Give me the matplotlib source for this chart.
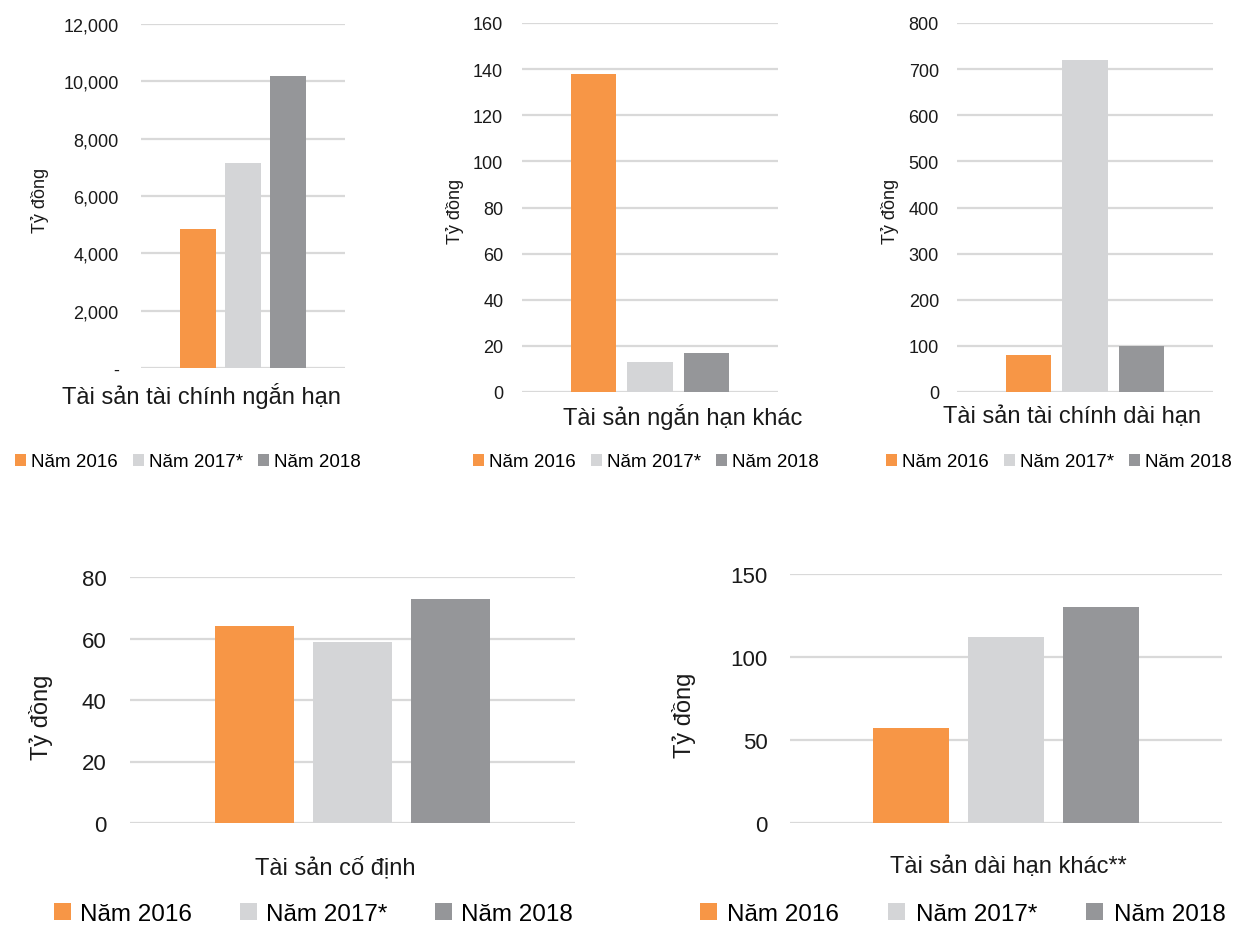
import numpy as np
import matplotlib
matplotlib.use("Agg")
import matplotlib.pyplot as plt
from matplotlib.ticker import FuncFormatter

plt.rcParams['font.family'] = ['Liberation Sans', 'DejaVu Sans']

# Data
series = ['Năm 2016', 'Năm 2017*', 'Năm 2018']
categories = ['Tài sản tài chính ngắn hạn', 'Tài sản ngắn hạn khác',
              'Tài sản tài chính dài hạn', 'Tài sản cố định',
              'Tài sản dài hạn khác**']
ts_tc_ngan_han = [4850, 7150, 10200]
ts_ngan_han_khac = [138, 13, 17]
ts_tc_dai_han = [80, 720, 100]
ts_co_dinh = [64, 59, 73]
ts_dai_han_khac = [57.5, 112, 130]
y_max = [12000, 160, 800, 80, 150]
y_step = [2000, 20, 100, 20, 50]
values = [ts_tc_ngan_han, ts_ngan_han_khac, ts_tc_dai_han, ts_co_dinh, ts_dai_han_khac]

colors = ['#F79646', '#D4D5D7', '#959699']
W, H = 1259, 928

# layout per panel (pixels): axes box, category label, y label, legend start, font sizes
panels = [
    dict(box=(141, 25, 345, 369), cat=(201, 396), ylab=(40, 200), leg=(15, 463),
         tick=13, lab=13, catfs=17, legfs=13.5, pad=16, sq=0.58, tp=0.28, cs=0.8),
    dict(box=(522, 24, 778, 393), cat=(683, 417), ylab=(455, 211), leg=(473, 463),
         tick=13, lab=13, catfs=17, legfs=13.5, pad=13.5, sq=0.58, tp=0.28, cs=0.8),
    dict(box=(957, 24, 1213, 393), cat=(1072, 417), ylab=(890, 211), leg=(886, 463),
         tick=13, lab=13, catfs=17, legfs=13.5, pad=13, sq=0.58, tp=0.28, cs=0.8),
    dict(box=(130, 578, 575, 824), cat=(335, 868), ylab=(41, 717), leg=(54, 915),
         tick=16, lab=17, catfs=17, legfs=17.5, pad=17, sq=0.7, tp=0.38, cs=1.95),
    dict(box=(790, 575, 1222, 824), cat=(1008, 867), ylab=(684, 715), leg=(700, 915),
         tick=16, lab=17, catfs=17, legfs=17.5, pad=16, sq=0.7, tp=0.42, cs=2.03),
]

fig = plt.figure(figsize=(W / 100, H / 100), dpi=100)

for k, p in enumerate(panels):
    x0, y0, x1, y1 = p['box']
    ax = fig.add_axes([x0 / W, 1 - y1 / H, (x1 - x0) / W, (y1 - y0) / H])
    offsets = np.array([-0.22, 0, 0.22])
    for i in range(3):
        ax.bar(offsets[i], values[k][i], width=0.176, color=colors[i],
               label=series[i], zorder=3)
    ax.set_xlim(-0.5, 0.5)
    ax.set_ylim(0, y_max[k])
    ax.set_yticks(np.arange(0, y_max[k] + 1, y_step[k]))
    if k == 0:
        ax.yaxis.set_major_formatter(FuncFormatter(lambda v, pos: '-' if v == 0 else f'{v:,.0f}'))
    ax.set_xticks([])
    ax.grid(axis='y', color='#D9D9D9', linewidth=1.6, zorder=0)
    for s in ax.spines.values():
        s.set_visible(False)
    ax.tick_params(axis='y', length=0, pad=p['pad'], labelsize=p['tick'], labelcolor='#1a1a1a')

    fig.text(p['cat'][0] / W, 1 - p['cat'][1] / H, categories[k], ha='center', va='center',
             fontsize=p['catfs'], color='#1a1a1a')
    fig.text(p['ylab'][0] / W, 1 - p['ylab'][1] / H, 'Tỷ đồng', rotation=90, ha='center',
             va='center', fontsize=p['lab'], color='#1a1a1a')
    ax.legend(loc='center left', bbox_to_anchor=(p['leg'][0] / W, 1 - p['leg'][1] / H),
              bbox_transform=fig.transFigure, ncol=3, frameon=False, fontsize=p['legfs'],
              handlelength=p['sq'], handleheight=p['sq'], handletextpad=p['tp'],
              columnspacing=p['cs'], borderpad=0, borderaxespad=0)

fig.savefig('out.png', dpi=100, facecolor='white')
